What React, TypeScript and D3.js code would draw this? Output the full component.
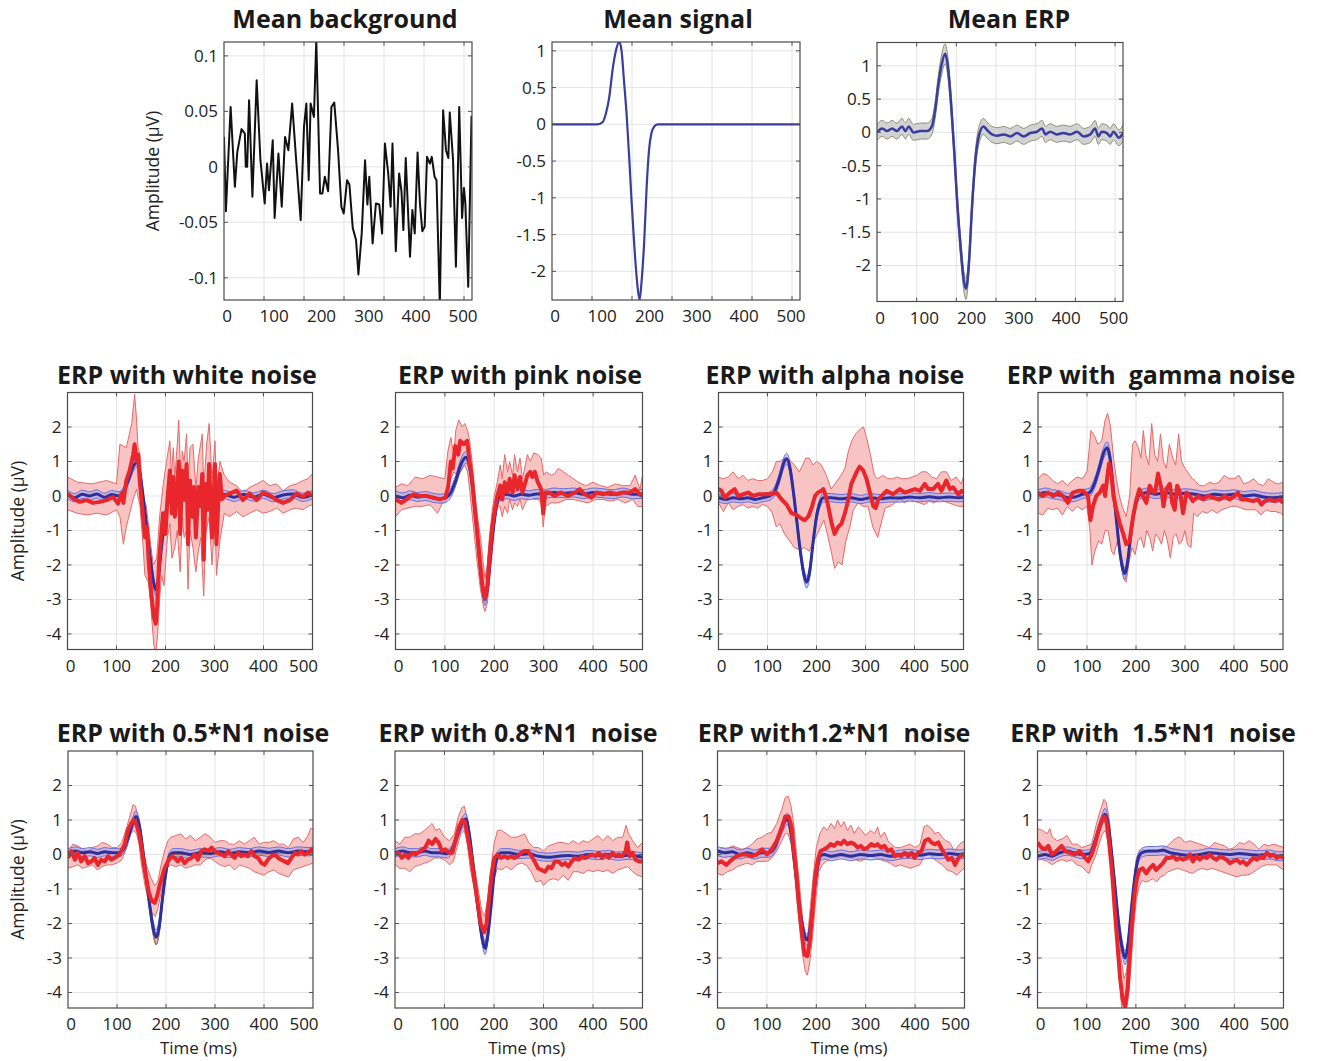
import React from "react";
import * as d3 from "d3";

type P = [number, number];
type B = [number, number, number];

// ---------- top row ----------
const bgTrace: P[] = [[-6,0.027],[-2,-0.04],[8,0.054],[17,-0.018],[22,0.013],[31,0.034],[38,0.03],[40,0.0],[43,0.0],[47,0.06],[54,-0.027],[63,0.078],[71,0.006],[80,-0.033],[85,0.003],[89,-0.021],[97,0.024],[101,-0.046],[109,0.012],[116,-0.036],[123,0.027],[130,0.015],[138,0.057],[146,0.009],[156,-0.048],[163,0.036],[168,0.057],[173,-0.012],[177,0.057],[184,0.045],[189,0.114],[197,-0.024],[202,-0.024],[207,-0.009],[214,-0.022],[221,0.054],[227,0.058],[235,0.015],[242,-0.036],[247,-0.042],[254,-0.012],[259,-0.016],[266,-0.055],[273,-0.066],[278,-0.097],[285,-0.06],[292,0.006],[297,-0.034],[301,-0.009],[308,-0.069],[315,-0.033],[322,-0.034],[328,-0.06],[334,0.021],[341,-0.006],[346,-0.036],[350,0.021],[357,-0.076],[364,-0.006],[369,-0.022],[373,-0.057],[378,0.008],[387,-0.081],[392,-0.039],[397,-0.06],[403,0.013],[408,-0.033],[413,-0.058],[418,-0.054],[423,0.009],[429,0.003],[433,0.009],[439,-0.009],[443,-0.012],[450,-0.125],[457,0.051],[463,0.015],[468,0.008],[471,0.049],[478,0.006],[484,-0.09],[491,0.054],[497,-0.046],[501,-0.019],[504,-0.033],[510,-0.108],[517,0.046]];

const signalTrace: P[] = [[-6,0],[90,0],[101,0.03],[108,0.15],[115,0.37],[122,0.74],[129,1.0],[136,1.12],[141,1.0],[146,0.6],[152,0.1],[157,-0.44],[162,-1.03],[168,-1.66],[174,-2.16],[179,-2.39],[183,-2.16],[189,-1.57],[194,-0.85],[199,-0.35],[204,-0.12],[210,-0.03],[217,0],[518,0]];

// [time, mean, sd]
const erpMean: B[] = [[0,0.0,0.12],[11,0.06,0.12],[21,0.02,0.12],[32,0.06,0.12],[42,0.02,0.12],[53,0.09,0.12],[60,0.02,0.12],[67,0.09,0.12],[77,0.0,0.12],[92,0.02,0.12],[106,0.02,0.12],[116,0.09,0.12],[123,0.34,0.13],[130,0.74,0.14],[137,1.03,0.15],[144,1.18,0.15],[149,1.03,0.15],[156,0.49,0.15],[163,-0.26,0.15],[170,-1.1,0.15],[177,-1.75,0.15],[183,-2.2,0.15],[188,-2.35,0.16],[194,-2.0,0.15],[201,-1.1,0.15],[208,-0.41,0.14],[215,-0.06,0.13],[225,0.09,0.12],[232,0.04,0.12],[243,-0.03,0.12],[254,-0.05,0.12],[268,-0.03,0.12],[282,-0.06,0.12],[296,-0.01,0.12],[310,-0.06,0.12],[324,-0.01,0.12],[338,0.01,0.12],[349,0.06,0.12],[356,-0.03,0.12],[366,0.01,0.12],[380,-0.03,0.12],[394,-0.01,0.12],[408,-0.03,0.12],[423,0.01,0.12],[437,-0.06,0.12],[451,-0.03,0.12],[461,0.06,0.12],[468,-0.06,0.12],[475,0.01,0.12],[486,-0.01,0.12],[493,-0.06,0.12],[500,0.01,0.12],[511,-0.08,0.12],[521,0.0,0.12]];

// ---------- noise conditions: clean ERP (blue) ----------
const blueWhite: B[] = [[0,0.05,0.12],[15,-0.05,0.12],[30,0.05,0.12],[45,0.0,0.12],[60,0.06,0.12],[75,-0.04,0.12],[90,0.04,0.12],[105,0.0,0.12],[115,0.15,0.12],[125,0.5,0.13],[134,0.85,0.14],[141,0.98,0.15],[148,0.65,0.15],[155,-0.1,0.15],[162,-0.95,0.15],[169,-1.8,0.15],[175,-2.45,0.16],[180,-2.72,0.16],[185,-2.45,0.16],[191,-1.6,0.15],[198,-0.75,0.14],[205,-0.15,0.13],[212,0.05,0.12],[225,0.05,0.12],[240,-0.05,0.12],[255,0.05,0.12],[270,-0.02,0.12],[285,0.05,0.12],[300,-0.03,0.12],[320,0.04,0.12],[340,-0.04,0.12],[360,0.04,0.12],[380,-0.03,0.12],[400,0.05,0.12],[420,-0.05,0.12],[440,0.03,0.12],[460,0.06,0.12],[480,-0.04,0.12],[500,0.04,0.12]];
const bluePink: B[] = [[0,0.0,0.15],[15,-0.05,0.14],[30,0.02,0.13],[45,-0.03,0.13],[60,0.0,0.13],[75,-0.05,0.13],[90,-0.08,0.13],[102,-0.05,0.13],[112,0.1,0.14],[122,0.45,0.15],[132,0.9,0.16],[143,1.12,0.17],[150,0.85,0.17],[157,0.1,0.17],[164,-0.9,0.17],[171,-2.0,0.17],[177,-2.75,0.17],[181,-3.0,0.17],[186,-2.7,0.17],[192,-1.8,0.16],[199,-0.85,0.15],[205,-0.25,0.14],[212,0.0,0.13],[225,0.05,0.13],[240,0.0,0.13],[255,0.05,0.13],[270,0.02,0.13],[285,0.06,0.13],[300,0.05,0.13],[320,0.1,0.13],[340,0.08,0.13],[360,0.1,0.13],[380,0.05,0.13],[400,0.1,0.13],[420,0.08,0.13],[440,0.05,0.13],[460,0.1,0.13],[480,0.05,0.13],[500,0.06,0.13]];
const blueAlpha: B[] = [[0,-0.05,0.12],[15,-0.1,0.12],[30,-0.05,0.12],[45,-0.08,0.12],[60,-0.05,0.12],[75,-0.1,0.12],[90,-0.05,0.12],[105,0.0,0.12],[115,0.15,0.13],[125,0.55,0.14],[133,0.95,0.15],[139,1.08,0.16],[146,0.8,0.16],[153,0.1,0.16],[160,-0.75,0.16],[167,-1.6,0.16],[174,-2.25,0.17],[180,-2.5,0.17],[186,-2.2,0.17],[193,-1.35,0.16],[200,-0.6,0.15],[207,-0.2,0.13],[214,-0.05,0.12],[230,-0.05,0.12],[250,-0.08,0.12],[270,-0.05,0.12],[290,-0.1,0.12],[310,-0.05,0.12],[330,-0.08,0.12],[350,-0.05,0.12],[370,-0.06,0.12],[390,-0.03,0.12],[410,-0.05,0.12],[430,-0.02,0.12],[450,-0.05,0.12],[470,-0.03,0.12],[490,-0.05,0.12],[500,-0.04,0.12]];
const blueGamma: B[] = [[0,0.05,0.13],[15,0.1,0.13],[30,0.05,0.13],[45,0.02,0.13],[60,-0.05,0.13],[75,-0.03,0.13],[90,0.05,0.13],[105,0.1,0.13],[115,0.35,0.14],[125,0.8,0.15],[134,1.25,0.16],[141,1.4,0.17],[147,1.1,0.17],[153,0.3,0.17],[160,-0.7,0.17],[166,-1.5,0.17],[172,-2.05,0.17],[177,-2.25,0.17],[182,-2.0,0.17],[188,-1.3,0.16],[195,-0.55,0.15],[202,-0.1,0.14],[210,0.05,0.13],[225,0.1,0.13],[240,0.05,0.13],[260,0.1,0.13],[280,0.05,0.13],[300,0.08,0.13],[320,0.05,0.13],[340,0.0,0.13],[360,0.05,0.13],[380,0.02,0.13],[400,0.05,0.13],[420,0.0,0.13],[440,0.03,0.13],[460,-0.03,0.13],[480,-0.05,0.13],[500,-0.03,0.13]];
const blueN05: B[] = [[0,0.05,0.12],[15,0.1,0.12],[30,0.05,0.12],[45,0.08,0.12],[60,0.03,0.12],[75,0.08,0.12],[90,0.05,0.12],[105,0.05,0.12],[115,0.2,0.13],[125,0.6,0.15],[133,0.95,0.16],[139,1.1,0.17],[146,0.8,0.17],[153,0.1,0.17],[160,-0.7,0.17],[167,-1.5,0.18],[174,-2.15,0.2],[180,-2.4,0.22],[186,-2.1,0.2],[193,-1.25,0.17],[200,-0.5,0.15],[207,-0.05,0.13],[215,0.05,0.12],[230,0.05,0.12],[250,0.0,0.12],[270,0.05,0.12],[290,0.03,0.12],[310,0.08,0.12],[330,0.03,0.12],[350,0.08,0.12],[370,0.05,0.12],[390,0.1,0.12],[410,0.06,0.12],[430,0.1,0.12],[450,0.05,0.12],[470,0.1,0.12],[490,0.08,0.12],[500,0.1,0.12]];
const brownN05: P[] = [[0,0.05],[50,0.05],[100,0.05],[115,0.2],[125,0.55],[135,0.95],[140,1.0],[147,0.7],[155,-0.1],[162,-1.0],[170,-1.9],[176,-2.45],[180,-2.6],[185,-2.35],[192,-1.5],[200,-0.6],[207,-0.1],[215,0.0],[300,0.0],[400,0.02],[500,0.05]];
const blueN08: B[] = [[0,0.05,0.12],[15,0.1,0.12],[30,0.05,0.12],[45,0.05,0.12],[60,0.1,0.12],[75,0.05,0.12],[90,0.05,0.12],[105,0.02,0.12],[117,0.2,0.13],[127,0.6,0.15],[136,0.92,0.16],[143,1.03,0.16],[150,0.6,0.16],[157,-0.2,0.16],[164,-1.1,0.17],[171,-1.95,0.17],[177,-2.5,0.18],[182,-2.72,0.18],[187,-2.4,0.17],[194,-1.5,0.16],[200,-0.6,0.15],[207,-0.05,0.13],[215,0.05,0.12],[230,0.05,0.12],[250,0.0,0.12],[270,0.02,0.12],[290,-0.05,0.12],[310,-0.08,0.12],[330,-0.05,0.12],[350,-0.03,0.12],[370,-0.05,0.12],[390,0.0,0.12],[410,-0.03,0.12],[430,0.0,0.12],[450,-0.05,0.12],[470,-0.02,0.12],[490,-0.05,0.12],[500,-0.08,0.12]];
const blueN12: B[] = [[0,0.1,0.13],[15,0.05,0.13],[30,0.08,0.13],[45,0.0,0.13],[60,0.05,0.13],[75,0.0,0.13],[90,0.05,0.13],[105,0.05,0.13],[117,0.25,0.14],[127,0.65,0.15],[136,0.95,0.16],[142,1.03,0.16],[149,0.6,0.16],[156,-0.25,0.16],[163,-1.15,0.16],[170,-1.9,0.17],[176,-2.35,0.17],[182,-2.48,0.17],[187,-2.2,0.17],[194,-1.3,0.16],[201,-0.5,0.14],[208,-0.05,0.13],[216,0.0,0.13],[230,-0.05,0.13],[250,0.0,0.13],[270,-0.05,0.13],[290,0.0,0.13],[310,-0.03,0.13],[330,0.0,0.13],[350,-0.05,0.13],[370,0.0,0.13],[390,0.02,0.13],[410,-0.02,0.13],[430,0.02,0.13],[450,0.0,0.13],[470,0.03,0.13],[490,0.0,0.13],[500,0.02,0.13]];
const blueN15: B[] = [[0,-0.05,0.12],[15,0.0,0.12],[30,-0.05,0.12],[45,0.05,0.12],[60,0.1,0.12],[75,0.05,0.12],[90,0.0,0.12],[105,0.02,0.12],[114,0.25,0.13],[123,0.65,0.15],[131,1.0,0.16],[137,1.17,0.17],[144,0.85,0.17],[151,0.0,0.17],[158,-1.0,0.17],[165,-2.0,0.18],[172,-2.7,0.19],[178,-3.0,0.2],[184,-2.6,0.19],[190,-1.7,0.17],[197,-0.75,0.15],[204,-0.15,0.14],[212,0.05,0.13],[225,0.1,0.13],[240,0.1,0.13],[255,0.12,0.13],[270,0.05,0.13],[290,0.0,0.13],[310,-0.03,0.13],[330,0.0,0.13],[350,0.05,0.13],[370,0.02,0.13],[390,0.0,0.13],[410,0.03,0.13],[430,0.0,0.13],[450,-0.02,0.13],[470,0.0,0.13],[490,-0.05,0.13],[500,-0.05,0.13]];

// ---------- noise conditions: noisy ERP (red mean, band edges) ----------
const whiteRed: P[] = [[0,0.07],[12,-0.08],[25,-0.17],[39,-0.12],[52,-0.2],[66,-0.17],[80,-0.12],[93,-0.03],[103,-0.22],[110,0.07],[114,-0.2],[120,0.45],[127,0.74],[134,1.2],[137,1.5],[141,1.0],[144,1.2],[148,0.35],[153,-0.4],[158,-1.2],[162,-0.9],[166,-2.0],[171,-2.8],[176,-3.5],[180,-3.7],[183,-3.2],[187,-1.85],[192,-1.0],[195,-0.5],[200,-1.1],[204,-0.1],[209,0.74],[213,-0.5],[216,0.55],[219,-0.6],[224,0.26],[227,1.0],[230,-1.1],[234,0.74],[238,-0.1],[243,0.93],[246,-1.4],[250,0.45],[255,-0.6],[258,0.26],[262,-1.2],[267,0.26],[271,-0.3],[275,0.64],[278,-1.85],[282,0.35],[286,-0.4],[289,0.93],[295,-1.2],[301,0.93],[304,-1.4],[308,-0.1],[311,0.64],[315,-0.1],[320,0.0],[331,0.07],[345,0.16],[358,-0.12],[372,0.07],[386,-0.12],[399,0.1],[413,0.02],[427,-0.12],[440,-0.2],[454,-0.12],[467,0.07],[481,-0.03],[491,0.1],[500,0.0]];
const whiteHi: P[] = [[0,0.55],[20,0.4],[50,0.35],[80,0.45],[100,0.35],[107,1.5],[120,1.4],[131,2.1],[137,2.95],[141,2.2],[144,1.4],[148,1.2],[154,0.0],[161,-0.3],[168,-1.2],[175,-2.0],[182,-1.8],[188,-0.6],[195,0.3],[202,1.0],[209,1.6],[212,0.6],[216,1.4],[219,0.5],[224,1.5],[227,2.2],[232,0.2],[234,1.3],[238,1.0],[243,1.8],[246,0.3],[250,1.4],[256,1.5],[262,0.2],[267,1.1],[275,1.8],[278,0.2],[284,1.5],[289,2.1],[295,0.5],[301,1.6],[304,0.2],[311,1.0],[320,0.6],[331,0.4],[345,0.3],[358,0.1],[372,0.25],[386,0.35],[399,0.45],[413,0.3],[427,0.35],[440,0.15],[454,0.3],[467,0.35],[481,0.45],[491,0.5],[500,0.65]];
const whiteLo: P[] = [[0,-0.4],[20,-0.5],[40,-0.55],[60,-0.5],[80,-0.55],[100,-0.4],[107,-0.6],[114,-1.4],[120,-0.9],[127,-0.5],[134,-0.1],[141,0.2],[148,-0.3],[154,-1.4],[158,-2.3],[165,-2.5],[170,-3.2],[176,-4.3],[180,-4.6],[184,-4.0],[188,-3.0],[192,-2.3],[197,-2.6],[200,-2.0],[204,-1.2],[209,-0.8],[213,-1.8],[219,-1.5],[224,-1.0],[230,-2.2],[234,-0.6],[238,-1.2],[243,-1.0],[246,-2.7],[250,-1.0],[256,-1.5],[262,-2.2],[267,-1.6],[272,-1.2],[278,-2.9],[282,-1.1],[289,-0.6],[295,-2.0],[301,-0.5],[304,-2.3],[311,-1.3],[320,-0.5],[331,-0.6],[345,-0.45],[358,-0.6],[372,-0.5],[386,-0.4],[399,-0.5],[413,-0.45],[427,-0.35],[440,-0.5],[454,-0.4],[467,-0.35],[481,-0.4],[491,-0.3],[500,-0.25]];

const pinkRed: P[] = [[0,-0.1],[12,-0.2],[22,-0.1],[36,0.05],[50,0.0],[63,0.0],[77,-0.05],[90,-0.1],[101,-0.05],[107,0.3],[112,1.0],[116,0.8],[121,1.45],[127,1.2],[131,1.6],[138,1.5],[145,1.6],[150,1.0],[155,0.5],[160,-0.3],[165,-1.0],[171,-1.9],[176,-2.6],[181,-2.95],[186,-2.6],[190,-1.8],[196,-0.9],[201,-0.4],[206,0.0],[212,0.3],[216,-0.1],[221,0.4],[227,0.1],[231,0.5],[237,0.1],[241,0.6],[247,0.2],[252,0.55],[257,0.1],[263,0.4],[267,0.6],[273,0.7],[277,0.55],[282,0.7],[288,0.4],[295,0.2],[299,-0.5],[303,0.1],[312,0.1],[322,0.0],[335,0.1],[349,0.0],[363,0.1],[373,0.2],[383,0.05],[397,-0.05],[407,0.1],[420,0.05],[434,0.1],[448,0.05],[461,0.1],[475,0.1],[485,0.2],[495,0.05],[500,0.0]];
const pinkHi: P[] = [[0,0.25],[12,0.35],[25,0.3],[40,0.55],[55,0.5],[70,0.6],[85,0.55],[100,0.5],[106,1.3],[112,1.7],[118,1.2],[122,1.9],[128,2.2],[135,2.0],[140,2.1],[146,1.9],[150,1.6],[155,1.0],[160,0.2],[166,-0.6],[172,-1.2],[178,-2.0],[181,-2.4],[186,-2.0],[190,-1.2],[196,-0.4],[200,0.0],[206,0.4],[212,0.9],[216,0.5],[221,1.2],[227,0.7],[231,1.0],[237,0.6],[241,1.2],[247,0.7],[252,1.1],[257,0.5],[263,0.9],[267,1.2],[273,1.0],[280,1.25],[288,1.2],[295,1.1],[300,0.6],[305,0.7],[315,0.6],[322,0.65],[330,0.8],[340,0.7],[350,0.6],[360,0.5],[370,0.4],[385,0.3],[400,0.4],[415,0.3],[430,0.25],[445,0.35],[460,0.3],[475,0.3],[485,0.6],[495,0.2],[500,0.6]];
const pinkLo: P[] = [[0,-0.6],[12,-0.4],[25,-0.35],[40,-0.3],[55,-0.3],[70,-0.25],[85,-0.5],[95,-0.2],[100,-0.2],[106,0.3],[112,0.5],[118,0.7],[125,0.6],[132,0.7],[140,0.9],[146,0.7],[150,0.2],[155,-0.5],[160,-1.2],[166,-2.0],[172,-2.7],[178,-3.2],[181,-3.35],[186,-3.1],[190,-2.5],[196,-1.6],[200,-0.8],[206,-0.3],[212,-0.3],[216,-0.6],[221,-0.3],[227,-0.5],[231,-0.1],[237,-0.4],[241,-0.2],[247,-0.3],[252,-0.1],[257,-0.4],[263,-0.2],[267,-0.1],[273,0.0],[280,-0.1],[288,-0.1],[295,-0.2],[299,-0.9],[303,-0.3],[315,-0.2],[330,-0.2],[345,-0.1],[360,-0.1],[375,-0.15],[390,-0.2],[405,-0.1],[420,-0.1],[435,-0.15],[450,-0.1],[465,-0.2],[480,-0.1],[490,-0.3],[500,-0.3]];

const alphaRed: P[] = [[0,0.2],[6,0.15],[13,-0.05],[23,0.1],[33,0.2],[40,0.0],[50,0.05],[61,0.1],[71,0.0],[81,0.05],[91,0.05],[105,0.05],[118,0.1],[129,-0.1],[139,-0.25],[149,-0.5],[159,-0.55],[169,-0.65],[176,-0.7],[183,-0.6],[190,-0.35],[197,0.0],[203,0.1],[210,0.15],[214,0.2],[219,0.0],[224,-0.3],[231,-0.8],[237,-1.1],[244,-0.9],[251,-0.8],[258,-0.5],[265,-0.1],[271,0.35],[282,0.7],[288,0.85],[295,0.75],[302,0.5],[309,0.1],[316,-0.3],[321,-0.35],[326,-0.1],[333,0.0],[343,0.15],[356,0.05],[370,0.2],[380,0.1],[390,0.15],[401,0.2],[411,0.15],[421,0.35],[428,0.2],[438,0.2],[448,0.35],[455,0.15],[465,0.45],[472,0.2],[479,0.25],[489,0.05],[496,0.15],[500,0.1]];
const alphaHi: P[] = [[0,0.55],[10,0.5],[20,0.55],[30,0.7],[40,0.5],[50,0.6],[60,0.45],[70,0.5],[80,0.45],[90,0.45],[100,0.5],[110,0.7],[118,1.0],[125,1.0],[135,1.1],[145,1.05],[155,0.9],[165,0.7],[172,0.9],[178,1.1],[185,1.1],[193,0.9],[200,1.0],[210,0.9],[220,0.6],[230,0.2],[240,0.4],[250,0.6],[258,0.8],[265,1.3],[272,1.6],[280,1.8],[290,1.95],[296,2.0],[302,1.7],[310,1.2],[318,0.6],[325,0.5],[335,0.6],[345,0.5],[355,0.5],[365,0.55],[375,0.5],[385,0.5],[395,0.55],[405,0.6],[415,0.7],[425,0.7],[435,0.55],[445,0.5],[455,0.7],[465,0.7],[475,0.45],[485,0.55],[495,0.35],[500,0.55]];
const alphaLo: P[] = [[0,-0.2],[10,-0.45],[20,-0.2],[30,-0.4],[40,-0.3],[50,-0.25],[60,-0.35],[70,-0.3],[80,-0.35],[90,-0.25],[100,-0.3],[110,-0.5],[118,-0.9],[125,-0.8],[135,-1.1],[145,-1.3],[155,-1.5],[165,-1.55],[175,-1.5],[185,-1.6],[195,-1.3],[205,-1.0],[215,-0.7],[222,-1.1],[230,-1.6],[237,-2.1],[245,-1.9],[252,-2.0],[260,-1.3],[268,-0.9],[275,-0.4],[285,-0.2],[295,-0.3],[305,-0.3],[315,-0.9],[325,-1.2],[330,-0.9],[340,-0.35],[350,-0.3],[360,-0.2],[370,-0.1],[380,-0.2],[390,-0.1],[400,-0.15],[410,-0.2],[420,-0.25],[430,-0.15],[440,-0.2],[450,-0.1],[460,-0.15],[470,-0.2],[480,-0.25],[490,-0.3],[500,-0.3]];

const gammaRed: P[] = [[0,0.1],[10,0.0],[20,0.1],[31,0.0],[41,0.1],[51,0.0],[61,-0.2],[71,0.1],[82,0.15],[92,0.15],[102,0.0],[107,-0.7],[112,-0.3],[119,0.0],[126,0.1],[133,0.3],[137,0.0],[141,0.5],[145,0.95],[150,0.6],[154,0.0],[160,-0.4],[167,-0.8],[174,-1.1],[180,-1.4],[187,-1.3],[194,-0.6],[201,-0.1],[207,0.2],[214,0.0],[221,-0.2],[228,0.3],[235,0.1],[239,0.1],[245,0.65],[252,0.2],[256,-0.3],[262,0.2],[269,0.35],[274,-0.2],[279,-0.4],[284,0.3],[290,0.1],[296,-0.5],[303,0.1],[310,0.0],[316,-0.15],[327,0.0],[337,-0.1],[347,0.0],[357,-0.05],[371,-0.1],[381,0.0],[391,-0.1],[401,0.0],[408,0.1],[415,-0.1],[425,-0.1],[439,-0.15],[449,-0.1],[456,-0.25],[463,-0.15],[473,-0.1],[483,-0.15],[493,-0.1],[500,-0.2]];
const gammaHi: P[] = [[0,0.5],[10,0.65],[20,0.6],[30,0.45],[40,0.35],[50,0.45],[60,0.3],[70,0.45],[80,0.55],[90,0.5],[100,0.7],[108,1.9],[115,1.75],[122,1.5],[130,1.6],[137,2.2],[142,2.4],[148,2.0],[155,1.0],[160,0.5],[166,0.0],[172,-0.3],[180,-0.6],[187,0.0],[193,1.5],[198,1.6],[205,1.4],[210,1.1],[215,1.9],[220,1.2],[226,0.9],[232,2.1],[238,1.2],[244,1.0],[250,1.8],[256,1.0],[262,0.8],[268,1.5],[275,1.1],[281,0.9],[287,1.8],[293,1.0],[300,0.8],[310,0.6],[315,0.5],[320,0.45],[330,0.3],[340,0.3],[350,0.4],[360,0.35],[370,0.4],[380,0.6],[390,0.5],[400,0.5],[410,0.6],[420,0.35],[430,0.4],[440,0.5],[450,0.35],[460,0.3],[470,0.5],[480,0.4],[490,0.35],[500,0.4]];
const gammaLo: P[] = [[0,-0.5],[10,-0.55],[20,-0.35],[30,-0.4],[40,-0.35],[50,-0.55],[60,-0.3],[70,-0.45],[80,-0.3],[90,-0.4],[100,-0.3],[106,-1.0],[110,-2.0],[116,-1.6],[124,-1.3],[130,-1.4],[137,-1.0],[143,-1.0],[150,-1.6],[155,-1.7],[162,-1.3],[168,-1.7],[175,-2.4],[180,-2.5],[186,-1.9],[192,-1.5],[198,-1.7],[204,-1.3],[210,-1.2],[216,-1.5],[222,-1.0],[228,-1.2],[234,-1.6],[240,-1.1],[246,-1.2],[252,-1.4],[258,-1.0],[264,-1.3],[270,-1.8],[276,-1.2],[282,-1.1],[288,-1.4],[294,-1.3],[300,-1.0],[305,-1.4],[312,-1.5],[318,-0.5],[325,-0.6],[335,-0.45],[345,-0.5],[355,-0.4],[365,-0.5],[375,-0.4],[385,-0.35],[395,-0.3],[405,-0.3],[415,-0.35],[425,-0.4],[435,-0.4],[445,-0.4],[455,-0.55],[465,-0.4],[475,-0.45],[485,-0.45],[495,-0.5],[500,-0.55]];

const n05Red: P[] = [[0,-0.1],[7,0.1],[14,-0.15],[20,0.05],[27,-0.2],[34,-0.05],[41,-0.25],[48,-0.2],[54,-0.1],[61,-0.3],[68,-0.15],[75,-0.2],[82,-0.05],[88,-0.15],[95,-0.1],[105,0.0],[116,0.3],[122,0.7],[129,0.9],[134,1.0],[139,0.9],[145,0.6],[150,0.2],[155,-0.3],[160,-0.7],[165,-1.1],[171,-1.35],[177,-1.4],[182,-1.2],[187,-0.9],[193,-0.6],[197,-0.4],[204,-0.2],[211,-0.05],[218,-0.1],[224,-0.2],[231,-0.1],[238,-0.25],[245,-0.15],[252,-0.1],[259,0.0],[265,-0.15],[272,0.1],[279,0.15],[286,0.1],[293,0.2],[299,0.1],[306,0.05],[313,0.0],[320,-0.05],[327,0.1],[333,0.0],[340,-0.1],[347,0.05],[354,-0.05],[361,0.0],[367,-0.05],[374,0.1],[381,-0.05],[388,-0.1],[395,-0.25],[401,-0.3],[408,-0.15],[415,-0.05],[422,0.0],[429,-0.1],[435,-0.15],[442,-0.2],[449,-0.25],[456,-0.1],[463,0.05],[469,0.0],[476,0.1],[483,0.0],[490,0.05],[497,0.15],[500,0.1]];
const n05Hi: P[] = [[0,0.1],[10,0.3],[20,0.25],[30,0.15],[40,0.1],[50,0.2],[60,0.25],[70,0.35],[80,0.3],[90,0.2],[100,0.2],[110,0.35],[120,0.8],[128,1.2],[133,1.45],[138,1.4],[143,1.0],[148,0.5],[155,0.0],[162,-0.4],[170,-0.7],[177,-0.9],[183,-0.8],[190,-0.3],[197,0.1],[204,0.4],[210,0.5],[220,0.55],[230,0.6],[240,0.45],[250,0.55],[260,0.4],[270,0.5],[280,0.6],[290,0.5],[300,0.35],[310,0.4],[320,0.4],[330,0.3],[340,0.3],[350,0.4],[360,0.3],[370,0.4],[380,0.5],[390,0.3],[400,0.35],[410,0.35],[420,0.4],[430,0.3],[440,0.3],[450,0.2],[460,0.45],[470,0.5],[480,0.35],[490,0.55],[495,0.75],[500,0.75]];
const n05Lo: P[] = [[0,-0.4],[10,-0.35],[20,-0.3],[30,-0.4],[40,-0.35],[50,-0.3],[60,-0.45],[70,-0.35],[80,-0.3],[90,-0.3],[100,-0.25],[110,-0.15],[120,0.2],[128,0.6],[135,0.7],[140,0.6],[145,0.3],[150,-0.3],[157,-0.9],[165,-1.4],[172,-1.7],[178,-1.8],[183,-1.6],[190,-1.1],[197,-0.6],[204,-0.35],[210,-0.3],[220,-0.35],[230,-0.3],[240,-0.4],[250,-0.35],[260,-0.3],[270,-0.3],[280,-0.15],[290,-0.1],[300,-0.2],[310,-0.3],[320,-0.35],[330,-0.3],[340,-0.45],[350,-0.3],[360,-0.35],[370,-0.4],[380,-0.5],[390,-0.55],[400,-0.6],[410,-0.5],[420,-0.45],[430,-0.55],[440,-0.6],[450,-0.65],[460,-0.45],[470,-0.4],[480,-0.35],[490,-0.3],[500,-0.25]];

const n08Red: P[] = [[0,0.0],[7,0.05],[14,-0.1],[20,0.0],[27,-0.1],[34,0.05],[41,0.0],[51,0.1],[61,0.2],[68,0.4],[75,0.3],[82,0.45],[88,0.35],[95,0.1],[102,0.15],[109,0.05],[116,0.05],[122,0.4],[129,0.8],[136,1.0],[141,0.95],[146,0.6],[153,0.0],[160,-0.7],[167,-1.4],[173,-2.0],[180,-2.25],[185,-2.0],[190,-1.3],[195,-0.6],[201,-0.1],[207,0.0],[214,-0.1],[221,-0.05],[228,-0.1],[235,-0.05],[241,-0.1],[248,-0.05],[255,0.05],[262,0.1],[269,0.1],[276,-0.05],[282,-0.2],[289,-0.4],[296,-0.45],[303,-0.5],[310,-0.35],[316,-0.4],[323,-0.2],[330,-0.2],[337,-0.3],[344,-0.25],[350,-0.35],[357,-0.2],[364,-0.1],[371,-0.15],[378,-0.05],[384,-0.1],[391,-0.05],[398,0.0],[405,-0.05],[412,0.05],[418,-0.1],[425,0.0],[432,-0.1],[439,0.05],[446,-0.05],[452,0.0],[459,-0.05],[466,0.1],[469,0.35],[474,-0.05],[480,0.05],[486,-0.15],[493,-0.2],[500,-0.2]];
const n08Hi: P[] = [[0,0.4],[10,0.3],[20,0.5],[30,0.5],[40,0.6],[50,0.6],[60,0.7],[68,0.8],[75,0.9],[82,0.7],[90,0.75],[100,0.5],[110,0.4],[120,0.6],[128,1.1],[135,1.35],[140,1.4],[146,1.0],[152,0.3],[160,-0.3],[168,-1.0],[175,-1.6],[181,-1.8],[187,-1.3],[193,-0.5],[200,0.3],[207,0.7],[215,0.7],[225,0.6],[235,0.5],[245,0.5],[255,0.55],[262,0.6],[270,0.35],[280,0.2],[290,0.2],[300,0.1],[310,0.25],[320,0.3],[330,0.35],[340,0.35],[350,0.3],[360,0.4],[370,0.3],[380,0.4],[390,0.35],[400,0.45],[410,0.55],[420,0.4],[430,0.55],[440,0.4],[450,0.5],[460,0.5],[467,0.85],[472,0.6],[480,0.4],[490,0.2],[500,0.35]];
const n08Lo: P[] = [[0,-0.3],[10,-0.4],[20,-0.4],[30,-0.5],[40,-0.35],[50,-0.3],[60,-0.25],[70,-0.2],[80,-0.1],[90,-0.1],[100,-0.15],[110,-0.3],[118,-0.2],[125,0.2],[133,0.6],[140,0.7],[146,0.3],[152,-0.4],[160,-1.0],[168,-1.8],[175,-2.4],[181,-2.6],[187,-2.3],[193,-1.5],[200,-0.7],[207,-0.4],[215,-0.45],[225,-0.35],[235,-0.45],[245,-0.3],[255,-0.25],[265,-0.3],[275,-0.5],[285,-0.8],[295,-0.75],[300,-0.9],[310,-0.75],[320,-0.7],[330,-0.75],[340,-0.6],[350,-0.75],[360,-0.5],[370,-0.5],[380,-0.55],[390,-0.45],[400,-0.5],[410,-0.45],[420,-0.5],[430,-0.45],[440,-0.55],[450,-0.45],[460,-0.4],[470,-0.35],[480,-0.5],[490,-0.6],[500,-0.65]];

const n12Red: P[] = [[0,-0.25],[8,-0.2],[18,-0.3],[29,-0.15],[39,-0.05],[49,0.0],[59,0.0],[69,-0.05],[80,0.0],[90,0.15],[100,0.0],[110,0.15],[120,0.4],[131,0.8],[137,1.1],[144,1.1],[150,0.8],[154,0.2],[160,-0.6],[165,-1.5],[171,-2.3],[176,-2.9],[182,-2.95],[187,-2.5],[193,-1.5],[198,-0.6],[204,-0.1],[209,0.1],[216,0.15],[222,0.2],[229,0.3],[236,0.25],[243,0.35],[250,0.3],[256,0.4],[263,0.3],[270,0.35],[277,0.3],[284,0.2],[290,0.25],[297,0.15],[304,0.2],[311,0.3],[318,0.25],[324,0.3],[331,0.2],[338,0.25],[345,0.1],[352,0.15],[359,-0.05],[365,0.0],[372,-0.05],[379,0.05],[386,-0.05],[393,0.05],[399,-0.1],[406,0.05],[413,0.1],[420,0.4],[427,0.45],[433,0.35],[440,0.3],[447,0.35],[454,0.15],[461,0.0],[467,-0.15],[474,-0.1],[481,-0.3],[488,-0.1],[495,0.0],[500,-0.05]];
const n12Hi: P[] = [[0,0.1],[10,0.2],[20,0.15],[30,0.25],[40,0.2],[50,0.15],[60,0.2],[70,0.3],[80,0.45],[90,0.5],[100,0.6],[110,0.65],[120,0.9],[130,1.3],[137,1.65],[143,1.7],[149,1.4],[155,0.8],[160,0.0],[166,-0.9],[172,-1.8],[178,-2.4],[183,-2.3],[188,-1.5],[194,-0.6],[200,0.2],[207,0.6],[215,0.8],[222,0.7],[230,0.9],[237,0.75],[243,1.0],[250,0.8],[256,0.95],[263,0.7],[270,0.85],[277,0.6],[285,0.8],[292,0.7],[300,0.55],[310,0.7],[318,0.6],[324,0.8],[330,0.5],[338,0.65],[345,0.4],[352,0.3],[360,0.2],[370,0.2],[380,0.25],[390,0.3],[400,0.2],[410,0.3],[418,0.8],[425,0.85],[433,0.75],[440,0.6],[447,0.65],[455,0.5],[462,0.4],[470,0.35],[480,0.1],[490,0.3],[500,0.4]];
const n12Lo: P[] = [[0,-0.55],[10,-0.6],[20,-0.5],[30,-0.45],[40,-0.35],[50,-0.3],[60,-0.25],[70,-0.3],[80,-0.2],[90,-0.2],[100,-0.2],[110,-0.1],[120,0.1],[130,0.4],[137,0.6],[143,0.6],[149,0.3],[155,-0.4],[160,-1.2],[166,-2.1],[172,-2.9],[178,-3.4],[182,-3.5],[187,-3.1],[193,-2.3],[199,-1.3],[205,-0.5],[212,-0.3],[220,-0.2],[230,-0.1],[240,-0.1],[250,-0.05],[260,-0.1],[270,-0.1],[280,-0.15],[290,-0.2],[300,-0.1],[310,-0.05],[320,-0.1],[330,-0.15],[340,-0.2],[350,-0.25],[360,-0.35],[370,-0.3],[380,-0.35],[390,-0.4],[400,-0.35],[410,-0.3],[420,0.0],[428,0.05],[435,-0.1],[445,-0.2],[455,-0.3],[465,-0.45],[475,-0.5],[485,-0.6],[495,-0.45],[500,-0.4]];

const n15Red: P[] = [[0,0.35],[8,0.2],[15,0.15],[22,0.25],[29,0.0],[35,0.05],[42,0.15],[49,0.25],[56,0.1],[66,0.05],[76,0.0],[86,0.1],[97,-0.1],[103,-0.2],[110,0.0],[117,0.3],[124,0.7],[131,1.0],[136,1.1],[141,0.9],[146,0.3],[152,-0.6],[157,-1.6],[163,-2.7],[168,-3.6],[173,-4.2],[178,-4.4],[183,-3.9],[187,-3.0],[192,-2.0],[197,-1.2],[202,-0.7],[207,-0.45],[214,-0.4],[221,-0.55],[228,-0.4],[235,-0.3],[241,-0.45],[248,-0.35],[255,-0.25],[262,-0.1],[269,-0.1],[276,-0.05],[282,-0.15],[289,-0.1],[296,-0.15],[303,-0.1],[310,0.0],[316,-0.2],[323,-0.05],[330,-0.15],[337,-0.05],[344,-0.1],[350,0.0],[357,-0.1],[364,-0.15],[371,-0.05],[378,-0.1],[384,-0.15],[391,-0.25],[398,-0.2],[405,-0.15],[412,-0.25],[418,-0.2],[425,-0.3],[432,-0.2],[439,-0.1],[446,-0.15],[452,-0.05],[459,-0.1],[466,0.05],[473,-0.05],[480,0.0],[486,-0.1],[493,-0.05],[500,-0.1]];
const n15Hi: P[] = [[0,0.75],[10,0.7],[20,0.6],[25,0.75],[30,0.5],[40,0.4],[50,0.45],[60,0.55],[70,0.3],[80,0.3],[90,0.2],[100,0.25],[110,0.3],[120,0.9],[128,1.3],[135,1.6],[140,1.5],[146,1.0],[152,0.0],[158,-1.0],[164,-2.0],[170,-3.0],[176,-3.6],[181,-3.4],[186,-2.6],[191,-1.6],[196,-0.7],[201,-0.1],[207,0.1],[215,0.15],[225,0.05],[235,0.1],[245,0.1],[255,0.2],[265,0.25],[275,0.4],[285,0.5],[290,0.5],[300,0.35],[310,0.4],[320,0.35],[330,0.3],[340,0.25],[350,0.2],[360,0.35],[370,0.3],[380,0.25],[390,0.15],[400,0.2],[410,0.35],[420,0.3],[430,0.4],[440,0.3],[450,0.15],[460,0.3],[470,0.25],[480,0.3],[490,0.25],[500,0.2]];
const n15Lo: P[] = [[0,-0.1],[10,-0.15],[20,-0.2],[30,-0.3],[40,-0.2],[50,-0.15],[60,-0.2],[70,-0.15],[80,-0.3],[90,-0.35],[100,-0.5],[105,-0.55],[110,-0.3],[118,-0.05],[125,0.3],[132,0.6],[138,0.7],[143,0.4],[148,-0.3],[154,-1.2],[160,-2.4],[166,-3.5],[172,-4.6],[180,-4.6],[186,-4.0],[191,-3.0],[196,-2.0],[201,-1.3],[207,-0.9],[213,-0.75],[220,-0.8],[228,-0.75],[235,-0.7],[242,-0.8],[250,-0.65],[258,-0.6],[265,-0.5],[275,-0.45],[285,-0.4],[295,-0.45],[305,-0.5],[315,-0.55],[325,-0.45],[335,-0.4],[345,-0.45],[355,-0.4],[365,-0.45],[375,-0.5],[385,-0.55],[395,-0.6],[405,-0.65],[415,-0.6],[425,-0.6],[435,-0.55],[445,-0.45],[455,-0.35],[465,-0.3],[475,-0.3],[485,-0.3],[495,-0.4],[500,-0.45]];

// ---------- ticks ----------
const bgTicks = [-0.1, -0.05, 0, 0.05, 0.1];
const signalTicks = [-2, -1.5, -1, -0.5, 0, 0.5, 1];
const noiseTicks = [-4, -3, -2, -1, 0, 1, 2];
const timeLabels = [0, 100, 200, 300, 400, 500];
const topGridTicks = [100, 200, 300, 400, 500, 600]; // top-row grid sits on its own 0..620 axis
const noiseGridTicks = [100, 200, 300, 400];

const FONT = "'Open Sans', 'DejaVu Sans', sans-serif";
const RED = "#e8262b";
const BLUE = "#2d2f9c";

interface Spec {
  id: string;
  x: number; y: number; w: number; h: number;
  xDomain: [number, number];
  yDomain: [number, number];
  yTicks: number[];
  title: string;
  titleX: number;
  titleY: number;
  ylabelX?: number;
  xlabel?: boolean;
  topGrid?: boolean;
}

type Sx = d3.ScaleLinear<number, number>;

function Panel({ s, draw }: { s: Spec; draw: (x: Sx, y: Sx) => React.ReactNode }) {
  const x = d3.scaleLinear().domain(s.xDomain).range([s.x, s.x + s.w]);
  const y = d3.scaleLinear().domain(s.yDomain).range([s.y + s.h, s.y]);
  const gx = s.topGrid ? d3.scaleLinear().domain([0, 620]).range([s.x, s.x + s.w]) : x;
  const gridX = s.topGrid ? topGridTicks : noiseGridTicks;
  const bottom = s.y + s.h;
  const tk = 4;
  return (
    <g>
      <defs>
        <clipPath id={"clip-" + s.id}>
          <rect x={s.x} y={s.y} width={s.w} height={s.h} />
        </clipPath>
      </defs>
      <rect x={s.x} y={s.y} width={s.w} height={s.h} fill="#fff" />
      {gridX.map(v => (
        <line key={"gx" + v} x1={gx(v)} x2={gx(v)} y1={s.y} y2={bottom} stroke="#e4e4e4" />
      ))}
      {s.yTicks.map(v => (
        <line key={"gy" + v} x1={s.x} x2={s.x + s.w} y1={y(v)} y2={y(v)} stroke="#e4e4e4" />
      ))}
      <g clipPath={`url(#clip-${s.id})`}>{draw(x, y)}</g>
      {gridX.map(v => (
        <g key={"tx" + v} stroke="#555">
          <line x1={gx(v)} x2={gx(v)} y1={bottom} y2={bottom - tk} />
          <line x1={gx(v)} x2={gx(v)} y1={s.y} y2={s.y + tk} />
        </g>
      ))}
      {s.yTicks.map(v => (
        <g key={"ty" + v} stroke="#555">
          <line x1={s.x} x2={s.x + tk} y1={y(v)} y2={y(v)} />
          <line x1={s.x + s.w} x2={s.x + s.w - tk} y1={y(v)} y2={y(v)} />
        </g>
      ))}
      <rect x={s.x} y={s.y} width={s.w} height={s.h} fill="none" stroke="#4a4a4a" strokeWidth={1.2} />
      {s.yTicks.map(v => (
        <text key={"ly" + v} x={s.x - 6} y={y(v)} dy="0.35em" textAnchor="end" fontSize={17} fill="#222" fontFamily={FONT}>
          {String(v)}
        </text>
      ))}
      {timeLabels.map(v => (
        <text key={"lx" + v} x={Math.min(Math.max(x(v), s.x + 3), s.x + s.w - 9)} y={bottom + 22} textAnchor="middle" fontSize={17} fill="#222" fontFamily={FONT}>
          {v}
        </text>
      ))}
      <text x={s.titleX} y={s.titleY} textAnchor="middle" fontSize={25} fontWeight="bold" fill="#1a1a1a" fontFamily={FONT} style={{ whiteSpace: "pre" }}>
        {s.title}
      </text>
      {s.ylabelX !== undefined && (
        <text transform={`translate(${s.ylabelX},${s.y + s.h / 2}) rotate(-90)`} dy="0.35em" textAnchor="middle" fontSize={17.5} fill="#222" fontFamily={FONT}>
          Amplitude (μV)
        </text>
      )}
      {s.xlabel && (
        <text x={s.x + s.w / 2 + 8} y={bottom + 46} textAnchor="middle" fontSize={17} fill="#222" fontFamily={FONT}>
          Time (ms)
        </text>
      )}
    </g>
  );
}

function noiseDraw(blue: B[], red: P[], hi: P[], lo: P[], extra?: P[]) {
  return (x: Sx, y: Sx) => {
    const lin = d3.line<P>().x(d => x(d[0])).y(d => y(d[1]));
    const smooth = d3.line<P>().x(d => x(d[0])).y(d => y(d[1])).curve(d3.curveMonotoneX);
    const band = d3.area<B>().x(d => x(d[0])).y0(d => y(d[1] - d[2])).y1(d => y(d[1] + d[2])).curve(d3.curveMonotoneX);
    const bHi = blue.map(d => [d[0], d[1] + d[2]] as P);
    const bLo = blue.map(d => [d[0], d[1] - d[2]] as P);
    const bMean = blue.map(d => [d[0], d[1]] as P);
    const redPoly = lin(hi.concat(lo.slice().reverse())) + "Z";
    return (
      <g>
        <path d={redPoly} fill="#f7bcbc" fillOpacity={0.9} />
        <path d={lin(hi) || ""} fill="none" stroke="#e46a6a" strokeWidth={1} />
        <path d={lin(lo) || ""} fill="none" stroke="#e46a6a" strokeWidth={1} />
        <path d={band(blue) || ""} fill="#9fa6ec" fillOpacity={0.55} />
        <path d={smooth(bHi) || ""} fill="none" stroke="#6670dc" strokeWidth={1} />
        <path d={smooth(bLo) || ""} fill="none" stroke="#6670dc" strokeWidth={1} />
        {extra && <path d={smooth(extra) || ""} fill="none" stroke="#c07a3a" strokeWidth={1.5} />}
        <path d={smooth(bMean) || ""} fill="none" stroke={BLUE} strokeWidth={3} />
        <path d={lin(red) || ""} fill="none" stroke={RED} strokeWidth={4} strokeLinejoin="round" />
      </g>
    );
  };
}

const MID_Y = 392.5, BOT_Y = 751, ROW_H = 257;
const noiseDomainX: [number, number] = [0, 500];
const noiseDomainY: [number, number] = [-4.45, 3];

export default function App() {
  const top: Spec[] = [
    { id: "bg", x: 224, y: 42, w: 248, h: 258, xDomain: [-6, 518], yDomain: [-0.12, 0.1125], yTicks: bgTicks, title: "Mean background", titleX: 345, titleY: 28, ylabelX: 153, topGrid: true },
    { id: "sig", x: 552, y: 42, w: 248, h: 258, xDomain: [-6, 518], yDomain: [-2.39, 1.12], yTicks: signalTicks, title: "Mean signal", titleX: 678, titleY: 28, topGrid: true },
    { id: "erp", x: 877, y: 42.5, w: 246, h: 259, xDomain: [0, 520], yDomain: [-2.54, 1.35], yTicks: signalTicks, title: "Mean ERP", titleX: 1009, titleY: 28, topGrid: true },
  ];
  const mk = (id: string, x: number, y: number, w: number, title: string, titleX: number, opts: Partial<Spec> = {}): Spec => ({
    id, x, y, w, h: ROW_H, xDomain: noiseDomainX, yDomain: noiseDomainY, yTicks: noiseTicks, title, titleX, titleY: y - 9, ...opts,
  });
  const mid: [Spec, B[], P[], P[], P[]][] = [
    [mk("white", 67.5, MID_Y, 245, "ERP with white noise", 187, { ylabelX: 18 }), blueWhite, whiteRed, whiteHi, whiteLo],
    [mk("pink", 395.5, MID_Y, 247, "ERP with pink noise", 520), bluePink, pinkRed, pinkHi, pinkLo],
    [mk("alpha", 718.5, MID_Y, 245, "ERP with alpha noise", 835), blueAlpha, alphaRed, alphaHi, alphaLo],
    [mk("gamma", 1038, MID_Y, 245, "ERP with  gamma noise", 1151), blueGamma, gammaRed, gammaHi, gammaLo],
  ];
  const bot: [Spec, B[], P[], P[], P[]][] = [
    [mk("n05", 68, BOT_Y, 245, "ERP with 0.5*N1 noise", 193, { ylabelX: 18, xlabel: true }), blueN05, n05Red, n05Hi, n05Lo],
    [mk("n08", 395, BOT_Y, 247.5, "ERP with 0.8*N1  noise", 518, { xlabel: true }), blueN08, n08Red, n08Hi, n08Lo],
    [mk("n12", 717.5, BOT_Y, 247, "ERP with1.2*N1  noise", 834, { xlabel: true }), blueN12, n12Red, n12Hi, n12Lo],
    [mk("n15", 1037.5, BOT_Y, 246, "ERP with  1.5*N1  noise", 1153, { xlabel: true }), blueN15, n15Red, n15Hi, n15Lo],
  ];

  return (
    <svg width={1317} height={1061} style={{ position: "absolute", left: 0, top: 0, background: "#fff" }}>
      <Panel s={top[0]} draw={(x, y) => {
        const l = d3.line<P>().x(d => x(d[0])).y(d => y(d[1]));
        return <path d={l(bgTrace) || ""} fill="none" stroke="#111" strokeWidth={2} strokeLinejoin="round" />;
      }} />
      <Panel s={top[1]} draw={(x, y) => {
        const l = d3.line<P>().x(d => x(d[0])).y(d => y(d[1])).curve(d3.curveMonotoneX);
        return <path d={l(signalTrace) || ""} fill="none" stroke="#3a3c9e" strokeWidth={2.2} />;
      }} />
      <Panel s={top[2]} draw={(x, y) => {
        const band = d3.area<B>().x(d => x(d[0])).y0(d => y(d[1] - d[2])).y1(d => y(d[1] + d[2])).curve(d3.curveMonotoneX);
        const l = d3.line<P>().x(d => x(d[0])).y(d => y(d[1])).curve(d3.curveMonotoneX);
        return (
          <g>
            <path d={band(erpMean) || ""} fill="#d2d2d2" />
            <path d={l(erpMean.map(d => [d[0], d[1] + d[2]] as P)) || ""} fill="none" stroke="#8f8f72" strokeWidth={1} />
            <path d={l(erpMean.map(d => [d[0], d[1] - d[2]] as P)) || ""} fill="none" stroke="#8f8f72" strokeWidth={1} />
            <path d={l(erpMean.map(d => [d[0], d[1]] as P)) || ""} fill="none" stroke="#3a3c9e" strokeWidth={2.5} />
          </g>
        );
      }} />
      {mid.map(([s, b, r, hi, lo]) => <Panel key={s.id} s={s} draw={noiseDraw(b, r, hi, lo)} />)}
      {bot.map(([s, b, r, hi, lo]) => (
        <Panel key={s.id} s={s} draw={noiseDraw(b, r, hi, lo, s.id === "n05" ? brownN05 : undefined)} />
      ))}
    </svg>
  );
}
